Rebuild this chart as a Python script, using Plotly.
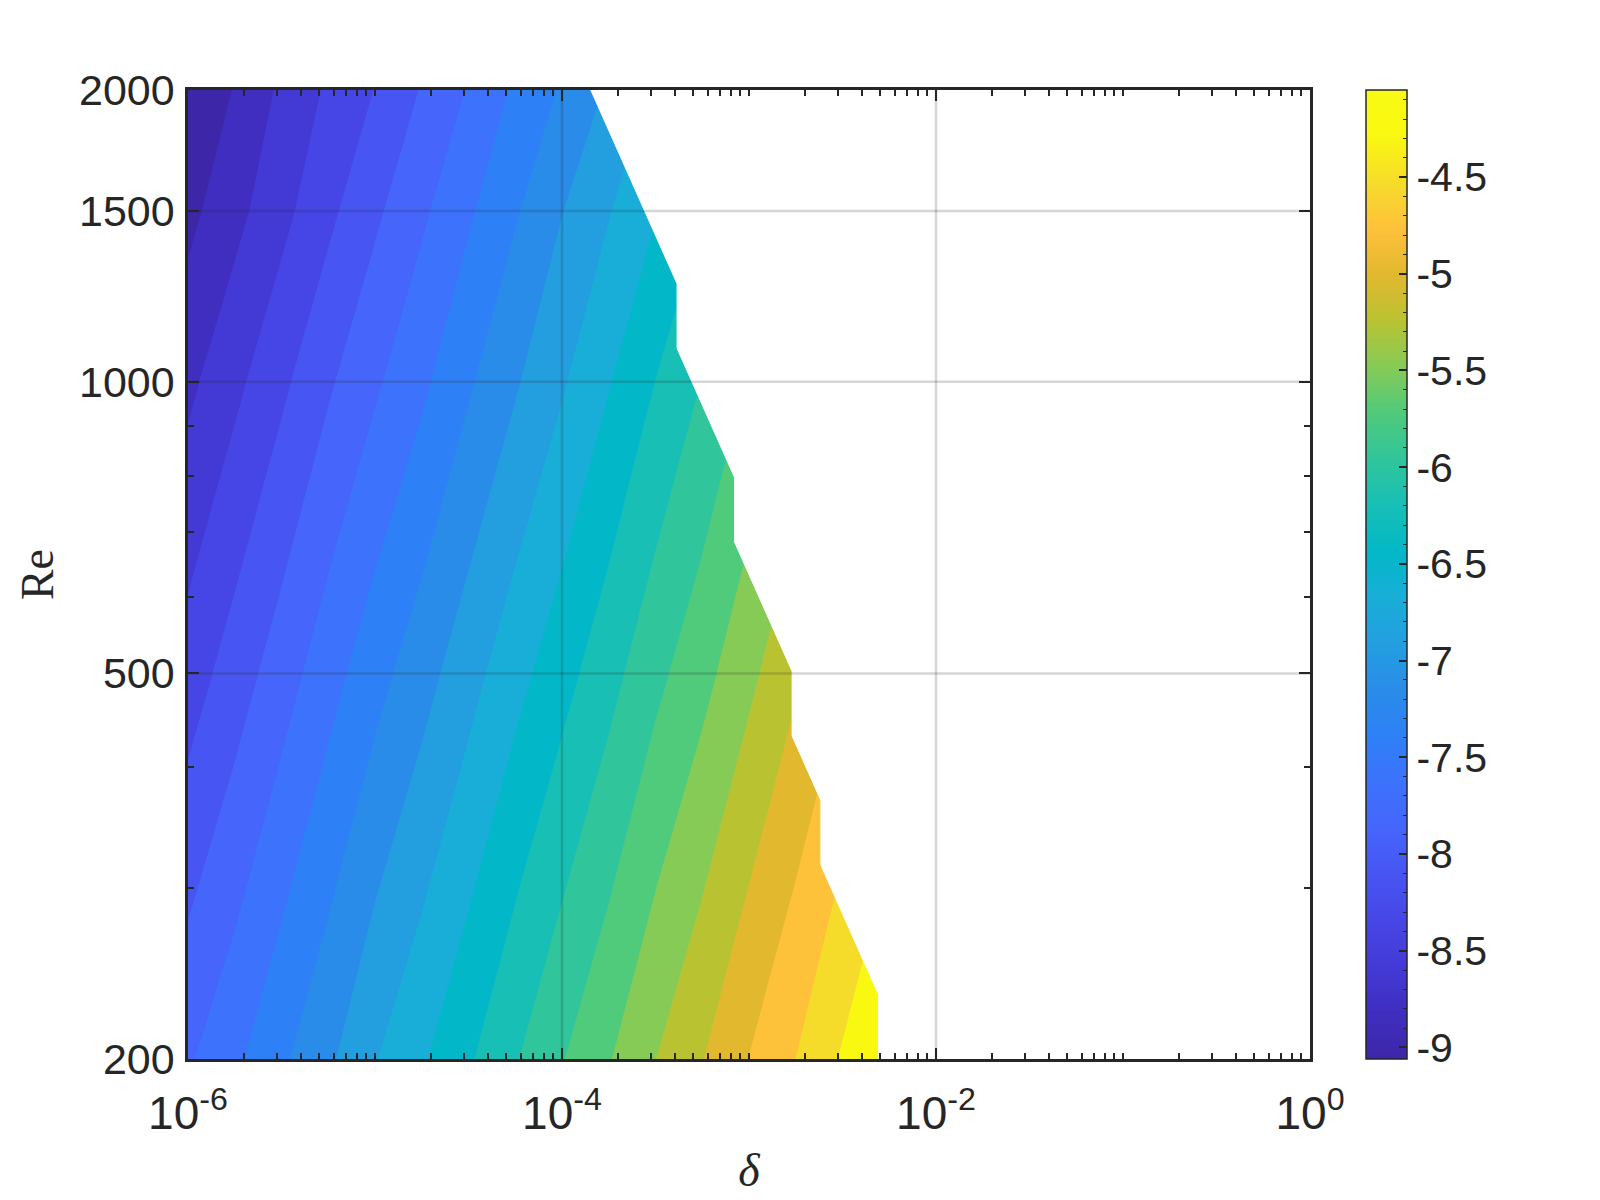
import numpy as np
import plotly.graph_objects as go

# ---------------- data ----------------
# log10(delta) sample positions and Re rows of the value grid
log_delta = [-6.0, -5.75, -5.5, -5.25, -5.0, -4.75, -4.5, -4.25, -4.0,
             -3.75, -3.5, -3.25, -3.0, -2.75, -2.5, -2.25, -2.0]
Re = [200, 300, 500, 700, 1000, 1500, 2000]

z_Re200 = [-7.66, -7.44, -7.195, -6.958, -6.688, -6.469, -6.229, -5.978, -5.734,
           -5.499, -5.246, -5.013, -4.760, -4.526, -4.263, -4.02, -3.77]
z_Re300 = [-7.914, -7.69, -7.438, -7.192, -6.933, -6.709, -6.467, -6.218, -5.979,
           -5.741, -5.485, -5.255, -4.999, -4.755, -4.496, -4.25, -4.00]
z_Re500 = [-8.233, -7.991, -7.745, -7.487, -7.242, -7.011, -6.766, -6.520, -6.287,
           -6.045, -5.785, -5.561, -5.301, -5.043, -4.79, -4.54, -4.29]
z_Re700 = [-8.431, -8.192, -7.945, -7.689, -7.448, -7.220, -6.969, -6.724, -6.489,
           -6.243, -5.984, -5.750, -5.495, -5.241, -4.99, -4.74, -4.49]
z_Re1000 = [-8.64, -8.405, -8.158, -7.903, -7.666, -7.441, -7.185, -6.941, -6.703,
            -6.452, -6.194, -5.95, -5.70, -5.45, -5.20, -4.95, -4.70]
z_Re1500 = [-8.89, -8.657, -8.417, -8.162, -7.912, -7.671, -7.425, -7.177, -6.920,
            -6.689, -6.45, -6.21, -5.97, -5.72, -5.48, -5.24, -5.00]
z_Re2000 = [-9.06, -8.805, -8.538, -8.308, -8.098, -7.850, -7.610, -7.350, -7.126,
            -6.88, -6.64, -6.40, -6.16, -5.92, -5.68, -5.44, -5.20]

# extent of the computed data: original grid (40 delta x 16 Re) and
# last delta-grid column holding data for each Re row (beyond it: no data)
delta_grid = np.logspace(-6, 0, 40)
Re_grid = np.logspace(np.log10(200), np.log10(2000), 16)
last_valid_col = [24, 24, 23, 22, 22, 21, 21, 20, 19, 19, 18, 17, 17, 16, 15, 14]

# colour limits / contour levels
cbar_min, cbar_max = -9.06, -4.05
n_levels = 20

# tick labels
x_tickvals = [1e-6, 1e-4, 1e-2, 1]
x_ticktext = ["10<sup>-6</sup>", "10<sup>-4</sup>", "10<sup>-2</sup>", "10<sup>0</sup>"]
y_tickvals = [200, 500, 1000, 1500, 2000]
y_ticktext = ["200", "500", "1000", "1500", "2000"]
cb_tickvals = [-9, -8.5, -8, -7.5, -7, -6.5, -6, -5.5, -5, -4.5]
cb_ticktext = ["-9", "-8.5", "-8", "-7.5", "-7", "-6.5", "-6", "-5.5", "-5", "-4.5"]

# parula-like colours at fractions j/21 of the colour range
parula_hex = ["#3e26a8", "#3f2ebf", "#433ad6", "#4646e6", "#4755f2", "#4565fb",
              "#3c72fc", "#2e80f6", "#2a8ce9", "#239fe0", "#19aed8", "#02b8c8",
              "#17bfb5", "#30c59b", "#50ca7b", "#86cb56", "#b9c332", "#e2b82f",
              "#fec13a", "#f6dc2a", "#f9f811", "#f9fb15"]

# ---------------- build figure ----------------
delta = [10 ** v for v in log_delta]
Z = [z_Re200, z_Re300, z_Re500, z_Re700, z_Re1000, z_Re1500, z_Re2000]

step = (cbar_max - cbar_min) / (n_levels + 1)
start = cbar_min + step
end = start + (n_levels - 1 + 0.2) * step

ncol = len(parula_hex)
# filled band above level L_j is coloured by the colormap value at L_j
contour_cs = [[j / n_levels, parula_hex[j]] for j in range(n_levels + 1)]
cbar_cs = [[j / (ncol - 1), parula_hex[j]] for j in range(ncol)]

INK = "#262626"

fig = go.Figure()

fig.add_trace(go.Contour(
    x=delta, y=Re, z=Z,
    colorscale=contour_cs,
    autocontour=False,
    contours=dict(start=start, end=end, size=step, coloring="fill", showlines=False),
    line=dict(width=0, smoothing=0),
    showscale=False,
    hoverinfo="skip",
))

# region without data (white)
mask_x = [float(delta_grid[c]) for c in last_valid_col] + [1.0, 1.0]
mask_y = [float(r) for r in Re_grid] + [float(Re_grid[-1]), float(Re_grid[0])]
fig.add_trace(go.Scatter(
    x=mask_x, y=mask_y, mode="lines", fill="toself",
    fillcolor="white", line=dict(color="white", width=1),
    hoverinfo="skip", showlegend=False,
))

# geometry (page has an 8px body margin)
L, T = 180, 82
PW, PH = 1122, 969
cb_x = (1358 - L) / PW

cb_common = dict(x=cb_x, xanchor="left", y=0.5, yanchor="middle",
                 len=1, lenmode="fraction", thickness=41,
                 thicknessmode="pixels", xpad=0, ypad=0)

# colour bar (continuous) with major ticks
fig.add_trace(go.Scatter(
    x=[1e-6], y=[200], mode="markers", hoverinfo="skip", showlegend=False,
    marker=dict(size=1, opacity=0, color=[cbar_min], cmin=cbar_min, cmax=cbar_max,
                colorscale=cbar_cs, showscale=True,
                colorbar=dict(outlinewidth=1.5, outlinecolor=INK,
                              tickmode="array", tickvals=cb_tickvals,
                              ticktext=cb_ticktext, ticks="inside", ticklen=8,
                              tickwidth=1.5, tickcolor=INK,
                              tickfont=dict(family="Liberation Sans", size=41,
                                            color=INK),
                              **cb_common)),
))
# colour bar minor ticks
fig.add_trace(go.Scatter(
    x=[1e-6], y=[200], mode="markers", hoverinfo="skip", showlegend=False,
    marker=dict(size=1, opacity=0, color=[cbar_min], cmin=cbar_min, cmax=cbar_max,
                colorscale=[[0, "rgba(0,0,0,0)"], [1, "rgba(0,0,0,0)"]],
                showscale=True,
                colorbar=dict(outlinewidth=0, tickmode="linear", tick0=-9,
                              dtick=0.1, ticks="inside", ticklen=4,
                              tickwidth=1.2, tickcolor=INK,
                              showticklabels=False, **cb_common)),
))

x_minor = [m * 10.0 ** e for e in range(-6, 0) for m in range(2, 10)] + [1e-5, 1e-3, 1e-1]
y_minor = [300, 400, 600, 700, 800, 900]

axis_common = dict(
    ticks="inside", ticklen=11, tickwidth=2, tickcolor=INK,
    showline=True, linewidth=2.5, linecolor=INK, mirror="ticks",
    showgrid=False, zeroline=False, layer="above traces",
)

fig.update_xaxes(
    type="log", range=[-6, 0], tickmode="array",
    tickvals=x_tickvals, ticktext=x_ticktext,
    tickfont=dict(family="Liberation Sans", size=46, color=INK),
    minor=dict(tickmode="array", tickvals=x_minor, ticks="inside", ticklen=6,
               tickwidth=2, tickcolor=INK, showgrid=False),
    title=dict(text="<i>δ</i>", font=dict(family="Liberation Serif", size=46, color=INK),
               standoff=16),
    ticklabelstandoff=12,
    **axis_common,
)
fig.update_yaxes(
    type="log", range=[np.log10(200), np.log10(2000)], tickmode="array",
    tickvals=y_tickvals, ticktext=y_ticktext,
    tickfont=dict(family="Liberation Sans", size=43, color=INK),
    minor=dict(tickmode="array", tickvals=y_minor, ticks="inside", ticklen=6,
               tickwidth=2, tickcolor=INK, showgrid=False),
    title=dict(text="Re", font=dict(family="Liberation Serif", size=46, color=INK),
               standoff=11),
    ticklabelstandoff=2,
    **axis_common,
)

# grid lines drawn above the filled contours (as in the reference)
grid_col = "rgba(38,38,38,0.19)"
for xv in x_tickvals[1:-1]:
    fig.add_shape(type="line", xref="x", yref="paper", x0=xv, x1=xv, y0=0, y1=1,
                  line=dict(color=grid_col, width=2.5), layer="above")
for yv in y_tickvals[1:-1]:
    fig.add_shape(type="line", xref="paper", yref="y", x0=0, x1=1, y0=yv, y1=yv,
                  line=dict(color=grid_col, width=2.5), layer="above")

fig.update_layout(
    width=1600, height=1200,
    margin=dict(l=L, r=1600 - L - PW, t=T, b=1200 - T - PH, autoexpand=False),
    paper_bgcolor="white", plot_bgcolor="white",
    showlegend=False,
    font=dict(family="Liberation Sans", color=INK),
)

fig.write_html("out.html")
